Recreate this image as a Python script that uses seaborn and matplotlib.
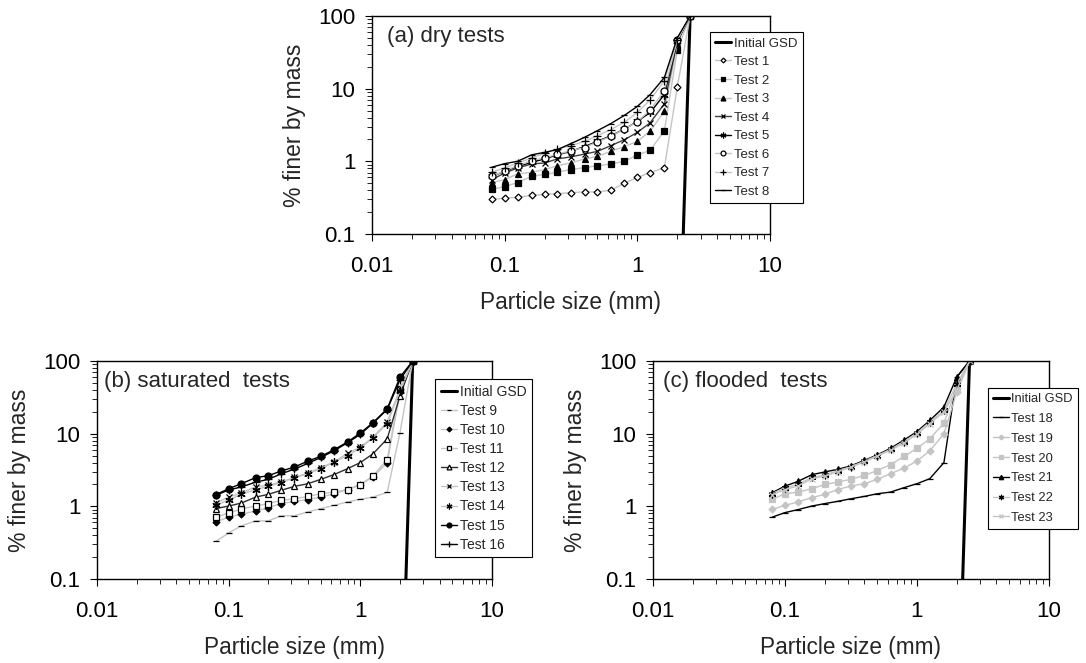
import seaborn as sns
import matplotlib.pyplot as plt
import matplotlib.ticker as mticker

# sieve sizes (mm)
sizes = [0.08, 0.1, 0.125, 0.16, 0.2, 0.25, 0.315, 0.4, 0.5, 0.63, 0.8, 1.0, 1.25, 1.6, 2.0, 2.5]
gsd_sizes = [2.0, 2.5]
gsd_finer = [0.00025, 100]

# (a) dry tests
dry_labels = ['Test 1', 'Test 2', 'Test 3', 'Test 4', 'Test 5', 'Test 6', 'Test 7', 'Test 8']
test1 = [0.30, 0.31, 0.32, 0.34, 0.35, 0.36, 0.37, 0.38, 0.38, 0.40, 0.50, 0.60, 0.70, 0.82, 10.5, 100]
test2 = [0.41, 0.45, 0.51, 0.62, 0.66, 0.71, 0.77, 0.82, 0.87, 0.92, 1.0, 1.22, 1.42, 2.64, 34, 100]
test3 = [0.51, 0.56, 0.67, 0.71, 0.77, 0.87, 0.95, 1.08, 1.17, 1.37, 1.6, 1.88, 2.6, 4.9, 42, 100]
test4 = [0.56, 0.69, 0.81, 0.92, 0.95, 1.08, 1.15, 1.26, 1.37, 1.64, 1.99, 2.5, 3.4, 6.2, 45, 100]
test5 = [0.62, 0.73, 0.85, 0.97, 1.08, 1.23, 1.37, 1.6, 1.88, 2.25, 2.78, 3.55, 4.7, 8.3, 45, 100]
test6 = [0.62, 0.74, 0.87, 1.02, 1.12, 1.25, 1.4, 1.55, 1.85, 2.2, 2.8, 3.5, 5.1, 9.4, 47, 100]
test7 = [0.71, 0.81, 0.95, 1.11, 1.3, 1.49, 1.64, 1.88, 2.25, 2.73, 3.45, 4.7, 7.0, 12.9, 47, 100]
test8 = [0.83, 0.93, 1.0, 1.23, 1.33, 1.45, 1.75, 2.14, 2.64, 3.3, 4.3, 5.7, 8.3, 14.3, 50, 100]

# (b) saturated tests
sat_labels = ['Test 9', 'Test 10', 'Test 11', 'Test 12', 'Test 13', 'Test 14', 'Test 15', 'Test 16']
test9 = [0.33, 0.43, 0.54, 0.63, 0.63, 0.74, 0.74, 0.84, 0.93, 1.03, 1.15, 1.25, 1.34, 1.56, 10.3, 100]
test10 = [0.61, 0.71, 0.78, 0.86, 0.96, 1.09, 1.17, 1.24, 1.34, 1.48, 1.7, 1.99, 2.53, 4.0, 37, 100]
test11 = [0.71, 0.81, 0.92, 1.01, 1.09, 1.21, 1.27, 1.37, 1.49, 1.57, 1.7, 1.99, 2.64, 4.4, 41, 100]
test12 = [0.93, 1.01, 1.11, 1.34, 1.46, 1.66, 1.88, 2.05, 2.35, 2.73, 3.3, 4.0, 5.3, 8.5, 33, 100]
test13 = [1.11, 1.34, 1.53, 1.85, 1.95, 2.16, 2.5, 2.87, 3.4, 4.07, 5.4, 6.5, 9.0, 14.5, 41, 100]
test14 = [1.03, 1.23, 1.46, 1.7, 1.88, 2.12, 2.48, 2.81, 3.3, 4.07, 5.0, 6.3, 8.8, 13.7, 39, 100]
test15 = [1.45, 1.75, 2.05, 2.48, 2.64, 3.06, 3.47, 4.2, 4.87, 6.0, 7.7, 10.2, 14.2, 22, 60, 100]
test16 = [1.42, 1.68, 1.85, 2.15, 2.35, 2.8, 3.25, 3.9, 4.7, 5.8, 7.5, 9.8, 14.0, 21.5, 55, 100]

# (c) flooded tests
fld_labels = ['Test 18', 'Test 19', 'Test 20', 'Test 21', 'Test 22', 'Test 23']
test18 = [0.71, 0.82, 0.9, 1.01, 1.09, 1.17, 1.27, 1.37, 1.49, 1.57, 1.81, 2.05, 2.4, 4.0, 60, 100]
test19 = [0.91, 1.03, 1.15, 1.32, 1.46, 1.7, 1.9, 2.05, 2.35, 2.81, 3.37, 4.2, 5.8, 10.0, 37, 100]
test20 = [1.25, 1.49, 1.56, 1.75, 2.0, 2.16, 2.35, 2.67, 3.1, 3.75, 4.87, 6.3, 8.5, 14.0, 44, 100]
test21 = [1.54, 1.9, 2.2, 2.73, 2.97, 3.23, 3.6, 4.3, 5.1, 6.3, 8.2, 10.7, 15.2, 23.3, 60, 100]
test22 = [1.5, 1.8, 2.0, 2.5, 2.7, 3.1, 3.5, 4.2, 5.0, 6.1, 7.8, 10.2, 14.5, 21, 48, 100]
test23 = [1.45, 1.7, 1.9, 2.4, 2.6, 3.0, 3.45, 4.1, 4.9, 5.9, 7.5, 9.8, 13.8, 20, 40, 100]

sns.set_theme(style='ticks')
plt.rcParams['font.family'] = ['Liberation Sans', 'DejaVu Sans']
plt.rcParams['axes.edgecolor'] = 'black'
plt.rcParams['axes.linewidth'] = 1.0
plt.rcParams['xtick.color'] = 'black'
plt.rcParams['ytick.color'] = 'black'

LG = '#c4c4c4'
K = 'black'
AST = (6, 2, 0)

# marker, line colour, marker colour, hollow, marker size
dry_style = [('D', LG, K, True, 3.5), ('s', LG, K, False, 4.5), ('^', LG, K, False, 5),
             ('x', '#404040', K, False, 5), (AST, K, K, False, 6), ('o', LG, K, True, 5),
             ('+', LG, K, False, 6), ('_', K, K, False, 4)]
sat_style = [('_', LG, K, False, 5), ('D', LG, K, False, 3.5), ('s', LG, K, True, 4.5),
             ('^', '#303030', K, True, 5), ('x', LG, K, False, 5), (AST, LG, K, False, 6),
             ('o', K, K, False, 5), ('+', K, K, False, 6)]
fld_style = [('_', K, K, False, 4), ('D', LG, LG, False, 3.5), ('s', LG, LG, False, 4.5),
             ('^', K, K, False, 4.5), (AST, LG, K, False, 5.5), ('x', LG, LG, False, 5)]

W, H = 1086, 663
fig = plt.figure(figsize=(W / 100, H / 100), dpi=100)
# axes boxes in pixels: left, top, right, bottom
boxes = {'a': (372, 16, 770, 234), 'b': (97, 361, 492, 579), 'c': (653, 361, 1049, 579)}
axes = {}
for k, (l, t, r, b) in boxes.items():
    axes[k] = fig.add_axes([l / W, 1 - b / H, (r - l) / W, (b - t) / H])

panels = [
    ('a', '(a) dry tests', dry_labels, [test1, test2, test3, test4, test5, test6, test7, test8],
     dry_style, 15, (710, 32), 9.5, 0.48),
    ('b', '(b) saturated  tests', sat_labels, [test9, test10, test11, test12, test13, test14, test15, test16],
     sat_style, 7, (435, 379), 10, 0.37),
    ('c', '(c) flooded  tests', fld_labels, [test18, test19, test20, test21, test22, test23],
     fld_style, 10, (988, 388), 9.3, 0.6),
]

for key, title, labels, series, styles, toff, lpos, lfs, lsp in panels:
    ax = axes[key]
    l, t, r, b = boxes[key]
    wpx, hpx = r - l, b - t
    ax.set_xscale('log')
    ax.set_yscale('log')
    sns.lineplot(x=gsd_sizes, y=gsd_finer, ax=ax, color=K, linewidth=2.2, label='Initial GSD')
    for lab, vals, (mk, lc, mc, hollow, ms) in zip(labels, series, styles):
        sns.lineplot(x=sizes, y=vals, ax=ax, color=lc, linewidth=1.0, marker=mk,
                     markersize=ms, markeredgecolor=mc,
                     markerfacecolor='white' if hollow else mc,
                     markeredgewidth=0.9, label=lab)
    ax.set_xlim(0.01, 10)
    ax.set_ylim(0.1, 100)
    fmt = mticker.FuncFormatter(lambda v, p: '{:g}'.format(v))
    ax.xaxis.set_major_formatter(fmt)
    ax.yaxis.set_major_formatter(fmt)
    ax.xaxis.set_minor_formatter(mticker.NullFormatter())
    ax.yaxis.set_minor_formatter(mticker.NullFormatter())
    ax.tick_params(which='major', length=5, width=0.8, labelsize=16)
    ax.tick_params(axis='x', which='major', pad=11)
    ax.tick_params(axis='y', which='major', pad=7)
    ax.tick_params(which='minor', length=3.5, width=0.6)
    for s in ax.spines.values():
        s.set_visible(True)
        s.set_color('black')
    ax.set_xlabel('Particle size (mm)', fontsize=16.3)
    ax.set_ylabel('% finer by mass', fontsize=16.5)
    ax.xaxis.set_label_coords(0.5, -57 / hpx)
    ax.yaxis.set_label_coords(-66 / wpx, 0.5)
    ax.text(toff / wpx, 1 - 10 / hpx, title, transform=ax.transAxes, fontsize=16,
            va='top', ha='left')
    leg = ax.legend(loc='upper left',
                    bbox_to_anchor=((lpos[0] - l) / wpx, (b - lpos[1]) / hpx),
                    fontsize=lfs, frameon=True, fancybox=False, edgecolor='black',
                    framealpha=1, handlelength=1.2, handletextpad=0.2, markerscale=0.7,
                    labelspacing=lsp, borderpad=0.4, borderaxespad=0)
    leg.get_frame().set_linewidth(0.8)

fig.savefig('out.png', dpi=100)
